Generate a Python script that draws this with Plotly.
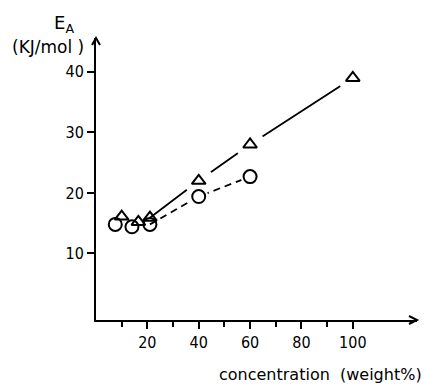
import plotly.graph_objects as go

# data
tri_x = [10, 16.5, 21, 40, 60, 100]
tri_y = [16.1, 15.2, 15.9, 22.0, 28.0, 39.0]
circ_x = [7.5, 14, 21, 40, 60]
circ_y = [14.8, 14.4, 14.8, 19.4, 22.7]
x_ticks = [20, 40, 60, 80, 100]
x_minor = [10, 30, 50, 70, 90]
y_ticks = [10, 20, 30, 40]

FONT = "DejaVu Sans"
TICKFONT = "DejaVu Sans Condensed, DejaVu Sans"
BLACK = "#000000"

fig = go.Figure()
# solid line for triangles
fig.add_trace(go.Scatter(x=tri_x[2:], y=tri_y[2:], mode="lines",
                         line=dict(color=BLACK, width=1.8)))
# white halos break the solid line near the triangles
fig.add_trace(go.Scatter(x=tri_x[3:], y=tri_y[3:], mode="markers",
                         marker=dict(symbol="circle", size=30, color="white",
                                     line=dict(width=0))))
# dashed line for circles
fig.add_trace(go.Scatter(x=circ_x[2:], y=circ_y[2:], mode="lines",
                         line=dict(color=BLACK, width=1.8, dash="7px,5px")))
fig.add_trace(go.Scatter(x=circ_x[3:], y=circ_y[3:], mode="markers",
                         marker=dict(symbol="circle", size=19, color="white",
                                     line=dict(width=0))))
# markers
fig.add_trace(go.Scatter(x=tri_x, y=tri_y, mode="markers",
                         marker=dict(symbol="triangle-up-open", size=12, color=BLACK,
                                     line=dict(width=2, color=BLACK))))
fig.add_trace(go.Scatter(x=circ_x, y=circ_y, mode="markers",
                         marker=dict(symbol="circle-open", size=13, color=BLACK,
                                     line=dict(width=2, color=BLACK))))

fig.update_layout(
    width=431, height=386,
    margin=dict(l=96, r=14, t=38, b=66),
    paper_bgcolor="white", plot_bgcolor="white",
    showlegend=False,
    font=dict(family=FONT, size=16, color=BLACK),
    xaxis=dict(range=[0, 125], showgrid=False, zeroline=False,
               showline=True, linecolor=BLACK, linewidth=2,
               tickmode="array", tickvals=x_ticks,
               ticks="outside", ticklen=7, tickwidth=2, tickcolor=BLACK,
               minor=dict(tickmode="array", tickvals=x_minor, ticks="outside",
                          ticklen=5, tickwidth=2, tickcolor=BLACK),
               tickfont=dict(size=16, family=TICKFONT)),
    yaxis=dict(range=[-1, 45.6], showgrid=False, zeroline=False,
               showline=True, linecolor=BLACK, linewidth=2,
               tickmode="array", tickvals=y_ticks,
               ticks="outside", ticklen=7, tickwidth=2, tickcolor=BLACK,
               tickfont=dict(size=16, family=TICKFONT)),
)

# arrow heads at axis ends (pixel-sized chevrons, paper-anchored so not clipped)
fig.add_shape(type="path", xref="paper", yref="paper", xsizemode="pixel", ysizemode="pixel",
              xanchor=0, yanchor=1, path="M -4,-7 L 0,0 L 4,-7",
              line=dict(color=BLACK, width=2))
fig.add_shape(type="path", xref="paper", yref="paper", xsizemode="pixel", ysizemode="pixel",
              xanchor=1, yanchor=0, path="M -8,4 L 0,0 L -8,-4",
              line=dict(color=BLACK, width=2))

# axis titles
fig.add_annotation(xref="paper", yref="paper", x=0.700, y=-0.193,
                   xanchor="center", yanchor="middle",
                   text="concentration  (weight%)", showarrow=False,
                   font=dict(size=16, family=FONT))
fig.add_annotation(xref="paper", yref="paper", x=-0.10, y=1.05,
                   xanchor="center", yanchor="middle",
                   text="E<sub>A</sub>", showarrow=False,
                   font=dict(size=18, family=FONT))
fig.add_annotation(xref="paper", yref="paper", x=-0.151, y=0.968,
                   xanchor="center", yanchor="middle",
                   text="(KJ/mol )", showarrow=False,
                   font=dict(size=17, family=FONT))

fig.write_html("out.html")
